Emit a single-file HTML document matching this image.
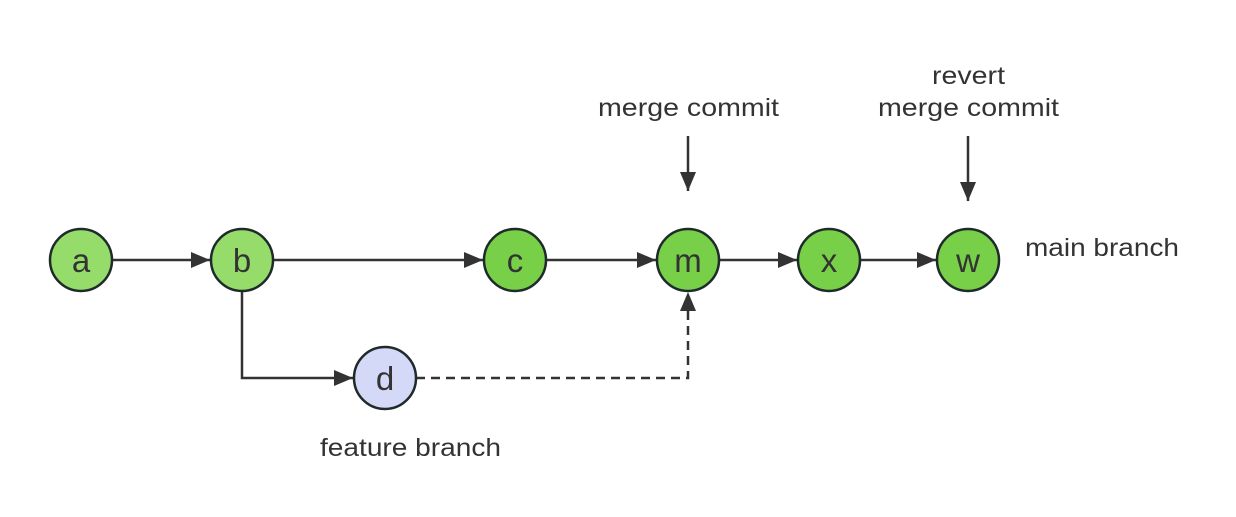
<!DOCTYPE html>
<html><head><style>
html,body{margin:0;padding:0;background:#fff;}
svg{display:block;}
text{font-family:"Liberation Sans","DejaVu Sans",sans-serif;fill:#333;}
</style></head><body>
<svg width="1236" height="517" viewBox="0 0 1236 517" xmlns="http://www.w3.org/2000/svg">
<defs>
<marker id="ar2" markerWidth="20" markerHeight="16" refX="19" refY="8" orient="auto" markerUnits="userSpaceOnUse">
<path d="M0,0 L19,8 L0,16 Z" fill="#333"/>
</marker>
</defs>
<g stroke="#333" stroke-width="2.5" fill="none">
<line x1="112" y1="260" x2="210" y2="260" marker-end="url(#ar2)"/>
<line x1="273" y1="260" x2="483" y2="260" marker-end="url(#ar2)"/>
<line x1="546" y1="260" x2="656" y2="260" marker-end="url(#ar2)"/>
<line x1="719" y1="260" x2="797" y2="260" marker-end="url(#ar2)"/>
<line x1="860" y1="260" x2="936" y2="260" marker-end="url(#ar2)"/>
<polyline points="242,291 242,378 353,378" marker-end="url(#ar2)"/>
<polyline points="416,378 688,378 688,292" stroke-dasharray="9,6" marker-end="url(#ar2)"/>
<line x1="688" y1="136" x2="688" y2="191" marker-end="url(#ar2)"/>
<line x1="968" y1="136" x2="968" y2="201" marker-end="url(#ar2)"/>
</g>
<g stroke="#1f2a2a" stroke-width="2.5">
<circle cx="81" cy="260" r="31" fill="#96dc6b"/>
<circle cx="242" cy="260" r="31" fill="#96dc6b"/>
<circle cx="515" cy="260" r="31" fill="#78d048"/>
<circle cx="688" cy="260" r="31" fill="#78d048"/>
<circle cx="829" cy="260" r="31" fill="#78d048"/>
<circle cx="968" cy="260" r="31" fill="#78d048"/>
<circle cx="385" cy="378" r="31" fill="#d5d9f8"/>
</g>
<g font-size="33" text-anchor="middle">
<text x="81" y="272">a</text>
<text x="242" y="272">b</text>
<text x="515" y="272">c</text>
<text x="688" y="272">m</text>
<text x="829" y="272">x</text>
<text x="968" y="272">w</text>
<text x="385" y="390">d</text>
</g>
<g font-size="25">
<text x="598" y="116" textLength="181" lengthAdjust="spacingAndGlyphs">merge commit</text>
<text x="932" y="84" textLength="73" lengthAdjust="spacingAndGlyphs">revert</text>
<text x="878" y="116" textLength="181" lengthAdjust="spacingAndGlyphs">merge commit</text>
<text x="320" y="456" textLength="181" lengthAdjust="spacingAndGlyphs">feature branch</text>
<text x="1025" y="256" textLength="154" lengthAdjust="spacingAndGlyphs">main branch</text>
</g>
</svg>
</body></html>
